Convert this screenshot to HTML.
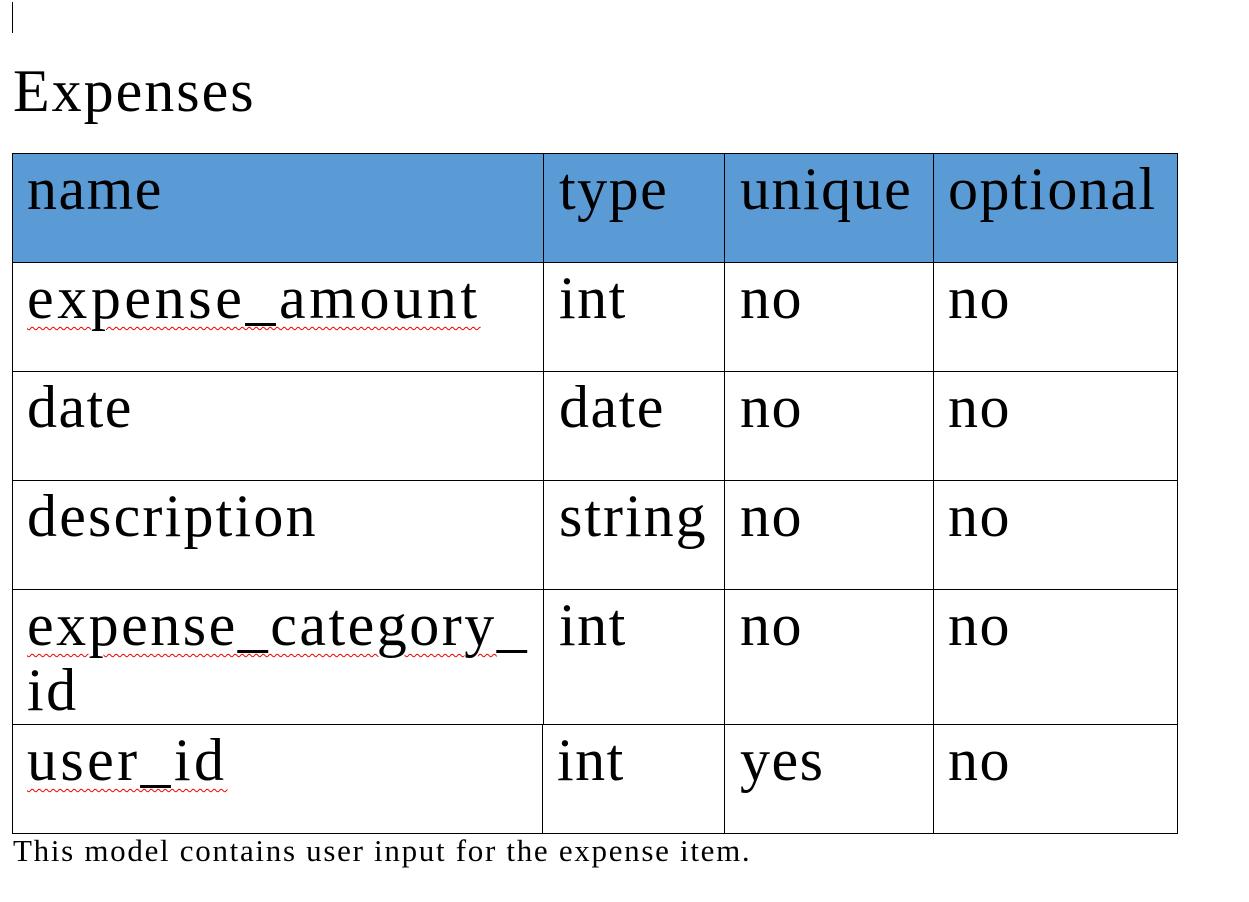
<!DOCTYPE html>
<html><head><meta charset="utf-8">
<style>
body{margin:0;width:1249px;height:902px;background:#fff;position:relative;overflow:hidden;font-family:"Liberation Serif",serif;color:#000}
.t{position:absolute;font-size:60px;line-height:65px;white-space:nowrap;letter-spacing:1.5px}
.hl{position:absolute;background:#000}
.sq{text-decoration:underline wavy #e00;text-decoration-thickness:1px;text-underline-offset:8px}
</style></head><body>
<div style="position:absolute;left:12px;top:2px;width:1px;height:31px;background:#000"></div>
<div class="t" style="left:13px;top:59px;letter-spacing:2px">Expenses</div>
<div style="position:absolute;left:12px;top:153px;width:1165px;height:109px;background:#5b9bd5"></div>
<div class="hl" style="left:12px;top:153px;width:1166px;height:1px"></div>
<div class="hl" style="left:12px;top:262px;width:1166px;height:1px"></div>
<div class="hl" style="left:12px;top:371px;width:1166px;height:1px"></div>
<div class="hl" style="left:12px;top:480px;width:1166px;height:1px"></div>
<div class="hl" style="left:12px;top:589px;width:1166px;height:1px"></div>
<div class="hl" style="left:12px;top:724px;width:1166px;height:1px"></div>
<div class="hl" style="left:12px;top:833px;width:1166px;height:1px"></div>
<div class="hl" style="left:12px;top:153px;width:1px;height:681px"></div>
<div class="hl" style="left:543px;top:153px;width:1px;height:571px"></div>
<div class="hl" style="left:542px;top:724px;width:1px;height:110px"></div>
<div class="hl" style="left:724px;top:153px;width:1px;height:681px"></div>
<div class="hl" style="left:933px;top:153px;width:1px;height:681px"></div>
<div class="hl" style="left:1177px;top:153px;width:1px;height:681px"></div>
<div class="t" style="left:27px;top:157px">name</div>
<div class="t" style="left:559px;top:157px">type</div>
<div class="t" style="left:740px;top:157px">unique</div>
<div class="t" style="left:948px;top:157px">optional</div>
<div class="t sq" style="left:27px;top:266px;letter-spacing:3.6px">expense_amount</div>
<div class="t" style="left:559px;top:266px">int</div>
<div class="t" style="left:740px;top:266px">no</div>
<div class="t" style="left:948px;top:266px">no</div>
<div class="t" style="left:27px;top:375px">date</div>
<div class="t" style="left:559px;top:375px">date</div>
<div class="t" style="left:740px;top:375px">no</div>
<div class="t" style="left:948px;top:375px">no</div>
<div class="t" style="left:27px;top:484px;letter-spacing:2.2px">description</div>
<div class="t" style="left:559px;top:484px;letter-spacing:2px">string</div>
<div class="t" style="left:740px;top:484px">no</div>
<div class="t" style="left:948px;top:484px">no</div>
<div class="t" style="left:27px;top:593px;letter-spacing:2.5px"><span class="sq">expense_category</span>_<br>id</div>
<div class="t" style="left:559px;top:593px">int</div>
<div class="t" style="left:740px;top:593px">no</div>
<div class="t" style="left:948px;top:593px">no</div>
<div class="t sq" style="left:27px;top:728px;letter-spacing:3.4px">user_id</div>
<div class="t" style="left:557px;top:728px">int</div>
<div class="t" style="left:740px;top:728px">yes</div>
<div class="t" style="left:948px;top:728px">no</div>
<div style="position:absolute;left:13px;top:835px;font-size:31px;line-height:32px;letter-spacing:1.7px;white-space:nowrap">This model contains user input for the expense item.</div>
</body></html>
